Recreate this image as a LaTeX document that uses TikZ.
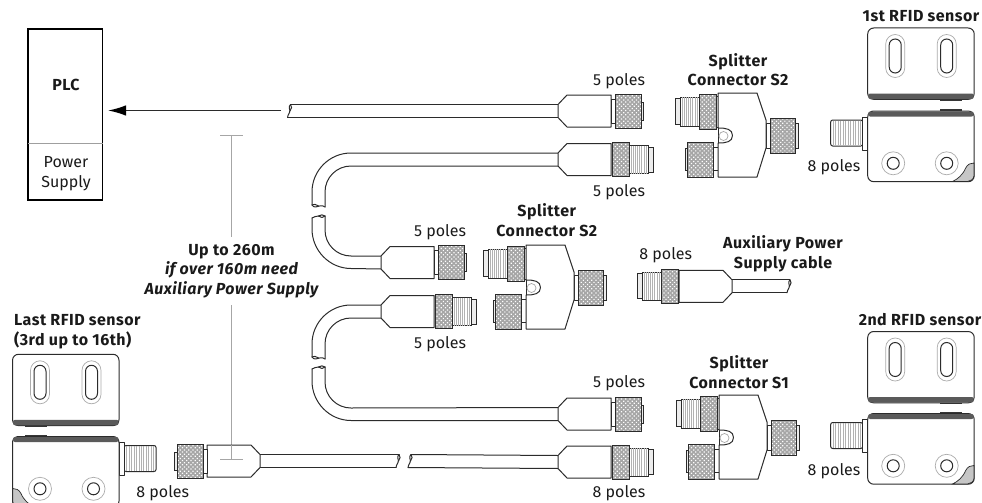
\documentclass[tikz,border=0pt]{standalone}
\usepackage{fontspec}
\setmainfont[BoldFeatures={LetterSpace=3},BoldItalicFeatures={LetterSpace=3}]{Fira Sans}
\usetikzlibrary{patterns.meta,arrows.meta,calc}
\definecolor{ln}{HTML}{2b2b2b}
\definecolor{tx}{HTML}{1a1a1a}
\definecolor{band}{HTML}{5a5a5a}
\newcommand{\threadbox}[4]{%
  \path[draw=ln,line width=1pt,fill=white] (#1,#3) rectangle (#2,#4);
  \foreach \tt in {1,...,8}{
    \draw[draw=gray!60,line width=.45pt] ({#1+(#2-#1)*\tt/9},#3) -- ({#1+(#2-#1)*\tt/9},#4);
  }
}
\tikzset{
 part/.style={draw=ln,line width=1pt,fill=white,line join=round},
 knurl/.style={draw=ln,line width=1pt,preaction={fill=gray!70},pattern={Dots[distance=3pt,radius=.85pt,angle=45]},pattern color=white},
 tip/.style={draw=ln,line width=1pt,fill=gray!15},
 wire/.style={draw=ln,line width=1pt,line cap=round,line join=round},
 dim/.style={draw=gray!70,line width=.9pt},
 lab/.style={font=\fontsize{16}{19.5}\selectfont,text=tx,inner sep=0pt},
 blab/.style={lab,font=\fontsize{16}{19.5}\selectfont\bfseries},
 ilab/.style={lab,font=\fontsize{16}{19.5}\selectfont\bfseries\itshape},
 femalecon/.pic={
  \path[part] (0,-6.5)--(9,-16)--(53,-16)--(53,16)--(9,16)--(0,6.5)--cycle;
  \path[part] (53,-12) rectangle (57,12);
  \path[tip] (83,-9) rectangle (85.5,9);
  \path[knurl] (57,-17) rectangle (83,17);
 },
 malecon/.pic={
  \path[part] (0,-6.5)--(9,-16)--(53,-16)--(53,16)--(9,16)--(0,6.5)--cycle;
  \path[tip] (90,-12.5) rectangle (95,12.5);
  \threadbox{71}{90}{-14}{14}
  \path[knurl] (54,-17) rectangle (71,17);
 },
 splitter/.pic={
  \path[tip] (-43,5) rectangle (-38,31);
  \threadbox{-38}{-19}{4}{33}
  \path[part] (-2,3) rectangle (0,34);
  \path[knurl] (-19,1) rectangle (-2,36);
  \path[tip] (-33,55) rectangle (-31,77);
  \path[part] (-5,54) rectangle (0,77);
  \path[knurl] (-31,49) rectangle (-5,84);
  \path[part] (48,30) rectangle (52,55);
  \path[tip] (77,30) rectangle (80,55);
  \path[knurl] (52,25) rectangle (77,60);
  \path[part] (0,0)--(39,0)--(48,27)--(48,55)--(39,84)--(0,84)--(0,50)
     .. controls (8,50) and (14.5,49) .. (14.5,42.5) .. controls (14.5,36) and (8,35) .. (0,35)--cycle;
  \path[wire] (0,35) -- (0,50);
  \draw[draw=gray!70,line width=.7pt] (5.5,43) circle (4.5);
 },
 sensortop/.pic={
  \fill[band!60!black] (72,70) rectangle (94,72.8);
  \path[part,rounded corners=6pt] (0,0) rectangle (106.5,71.3);
  \fill[band,rounded corners=2pt] (.5,65.5) -- (106,65.5) -- (106,71) -- (.5,71) -- cycle;
  \foreach \xx in {27.5,79}{
   \draw[draw=gray!65,line width=.7pt,rounded corners=9.5pt] (\xx-9.5,6.5) rectangle (\xx+9.5,49.5);
   \draw[draw=ln,line width=1pt,rounded corners=6pt] (\xx-6,11) rectangle (\xx+6,45);
  }
 },
 sensorbottom/.pic={
  \fill[band!60!black] (72,-2) rectangle (94,1);
  \path[draw=ln,line width=1pt,fill=white,rounded corners=2pt] (-37,9) rectangle (-5,35);
  \foreach \tt in {1,...,12}{
    \draw[draw=gray!60,line width=.45pt] ({-37+32*\tt/13},9.5) -- ({-37+32*\tt/13},34.5);
  }
  \path[part] (-5,6) rectangle (0,39);
  \path[part,rounded corners=6pt] (0,0) rectangle (106.5,70.7);
  \fill[band,rounded corners=2pt] (.5,0.5) -- (106,0.5) -- (106,5.5) -- (.5,5.5) -- cycle;
  \foreach \xx in {25.5,79}{
   \draw[draw=gray!65,line width=.7pt] (\xx,52.3) circle (11.5);
   \draw[draw=ln,line width=1pt] (\xx,52.3) circle (6);
  }
  \path[draw=ln,line width=.7pt,fill=gray!45] (85,70.4) .. controls (90,68) and (95,64) .. (98,57) .. controls (100,53) and (103,52) .. (106.2,52) -- (106.2,65) .. controls (106,68) and (103,70.4) .. (100,70.4) -- cycle;
 },
 breakh/.pic={
  \path[wire] (3,-6.5) .. controls (0,-4) and (3.5,-1) .. (2,1.5) .. controls (1,3.5) and (0,5) .. (0,6.5);
  \path[wire] (3,-6.5) .. controls (4.5,-5) and (4.5,-2) .. (2.5,0);
 },
 breakv/.pic={
  \path[wire] (-6.5,0) .. controls (-5,3) and (-1,2) .. (1,1) .. controls (3,0) and (5,1) .. (6.5,2);
  \path[wire] (-6.5,0) .. controls (-5,-1) and (-2,-1) .. (0,1);
 },
 breakw/.pic={
  \path[wire] (-6.5,2) .. controls (-5,0) and (-2,1) .. (0,0) .. controls (2,-1) and (5,-2) .. (6.5,0);
  \path[wire] (6.5,0) .. controls (5,2) and (2,2) .. (0,0);
 },
}
\begin{document}
\begin{tikzpicture}[x=1pt,y=-1pt]
\useasboundingbox (0,0) rectangle (982,503);
\clip (0,0) rectangle (982,503);
% PLC
\node[draw=black,line width=1.4pt,minimum width=74.7pt,minimum height=171pt,inner sep=0pt] (plc) at (65.3,114.5) {};
\coordinate (plcL) at (28,143.3);
\coordinate (plcR) at (102.7,143.3);
\draw[draw=gray!75,line width=.9pt] (plcL) -- (plcR);
\node[blab] (plctxt) at (66,85) {PLC};
\node[lab,align=center] (ps) at (66,173.8) {Power\\Supply};
% anchor coordinates
\coordinate (c1f) at (558,111);
\coordinate (c1m) at (558,159.5);
\coordinate (c2f) at (381,262.5);
\coordinate (c2m) at (381,311.5);
\coordinate (c3f) at (558,414);
\coordinate (c3m) at (558,462);
\coordinate (c4) at (260,461);
\coordinate (aux) at (732,286.3);
\coordinate (b1) at (287.5,111);
\coordinate (arrs) at (281,110.5);
\coordinate (arre) at (108,110.5);
\coordinate (b2a) at (318.5,205);
\coordinate (b2b) at (318.5,216);
\coordinate (b3a) at (318.5,357);
\coordinate (b3b) at (318.5,367);
\coordinate (b4a) at (396,461);
\coordinate (b4b) at (408,461);
\coordinate (b5) at (787,286.3);
\coordinate (dt) at (231.5,135);
\coordinate (dm1) at (231.5,237);
\coordinate (dm2) at (231.5,305);
\coordinate (db) at (231.5,459.3);
% arrow
\draw[draw=ln,line width=1.6pt,-{Latex[length=18pt,width=10.5pt,black]}] (arrs) -- (arre);
% dim
\draw[dim] (dt) -- (dm1);
\draw[dim] (dm2) -- (db);
\draw[dim] (220,135) -- (243,135);
% cables
\draw[wire] (b1)++(3,-6.5) -- ($(c1f)+(0,-6.5)$);
\draw[wire] (b1)++(0,6.5) -- ($(c1f)+(0,6.5)$);
\pic at (b1) {breakh};
\draw[wire] (c1m)++(0,-6.5) -- (351,153) .. controls (329.5,153) and (312,170.5) .. (312,192) -- ($(b2a)+(-6.5,0)$);
\draw[wire] (c1m)++(0,6.5) -- (351,166) .. controls (336.6,166) and (325,177.6) .. (325,192) -- ($(b2a)+(6.5,2)$);
\pic at (b2a) {breakv};
\draw[wire] (b2b)++(-6.5,2) -- (312,229) .. controls (312,250.5) and (329.5,268.5) .. (351,268.5) -- ($(c2f)+(0,6.5)$);
\draw[wire] (b2b)++(6.5,0) -- (325,230) .. controls (325,244.4) and (336.6,256) .. (351,256) -- ($(c2f)+(0,-6.5)$);
\pic at (b2b) {breakw};
\draw[wire] (c2m)++(0,-6.5) -- (351,305) .. controls (329.5,305) and (312,322.5) .. (312,344) -- ($(b3a)+(-6.5,0)$);
\draw[wire] (c2m)++(0,6.5) -- (351,318) .. controls (336.6,318) and (325,329.6) .. (325,344) -- ($(b3a)+(6.5,2)$);
\pic at (b3a) {breakv};
\draw[wire] (b3b)++(-6.5,2) -- (312,381) .. controls (312,402.5) and (329.5,420.5) .. (351,420.5) -- ($(c3f)+(0,6.5)$);
\draw[wire] (b3b)++(6.5,0) -- (325,382) .. controls (325,396.4) and (336.6,408) .. (351,408) -- ($(c3f)+(0,-6.5)$);
\pic at (b3b) {breakw};
\draw[wire] (c4)++(0,-6.5) -- ($(b4a)+(3,-6.5)$);
\draw[wire] (c4)++(0,6.5) -- ($(b4a)+(0,6.5)$);
\pic at (b4a) {breakh};
\draw[wire] (b4b)++(3,-6.5) -- ($(c3m)+(0,-6.5)$);
\draw[wire] (b4b)++(0,6.5) -- ($(c3m)+(0,6.5)$);
\pic at (b4b) {breakh};
\draw[wire] (aux)++(0,-6.5) -- ($(b5)+(2.5,-6.5)$);
\draw[wire] (aux)++(0,6.5) -- ($(b5)+(-.5,6.5)$);
\pic at (b5) {breakh};
% connectors
\pic (con1f) at (c1f) {femalecon};
\pic (con1m) at (c1m) {malecon};
\pic (con2f) at (c2f) {femalecon};
\pic (con2m) at (c2m) {malecon};
\pic (con3f) at (c3f) {femalecon};
\pic (con3m) at (c3m) {malecon};
\pic[xscale=-1] (con4) at (c4) {femalecon};
\pic[xscale=-1] (conaux) at (aux) {malecon};
\draw[dim] (220,459.3) -- (243,459.3);
\draw[dim] (231.5,445) -- (db);
% splitters
\pic (sp1) at (718,93) {splitter};
\pic (sp2) at (526,245) {splitter};
\pic (sp3) at (719,395) {splitter};
% sensors
\pic (s1t) at (867.7,28) {sensortop};
\pic (s1b) at (867.7,111) {sensorbottom};
\pic (s2t) at (867.7,331.5) {sensortop};
\pic (s2b) at (867.7,413.5) {sensorbottom};
\pic[xscale=-1] (s3t) at (119,354.3) {sensortop};
\pic[xscale=-1] (s3b) at (119,436.5) {sensorbottom};
% labels
\node[lab] (l1) at (619,81.5) {5 poles};
\node[lab] (l2) at (619,192.5) {5 poles};
\node[blab,align=center] (l3) at (738,69.5) {Splitter\\Connector S2};
\node[blab] (l4) at (921,16.5) {1st RFID sensor};
\node[lab] (l5) at (834,167.5) {8 poles};
\node[lab] (l6) at (440,232) {5 poles};
\node[lab] (l7) at (440,344) {5 poles};
\node[blab,align=center] (l8) at (546.7,220.3) {Splitter\\Connector S2};
\node[lab] (l9) at (665.7,255.5) {8 poles};
\node[blab,align=center] (l10) at (783,253.7) {Auxiliary Power\\Supply cable};
\node[blab] (l11) at (920,319.8) {2nd RFID sensor};
\node[blab,align=center] (l12) at (739,372.2) {Splitter\\Connector S1};
\node[lab] (l13) at (619,383) {5 poles};
\node[lab] (l14) at (619,493.5) {8 poles};
\node[lab] (l15) at (834,471.5) {8 poles};
\node[blab,align=left,anchor=west] (l16) at (14,331.5) {Last RFID sensor\\(3rd up to 16th)};
\node[lab] (l17) at (162.7,493.5) {8 poles};
\node[blab] (l18) at (231.5,251.7) {Up to 260m};
\node[ilab,align=center] (l19) at (231.5,280) {if over 160m need\\Auxiliary Power Supply};
\end{tikzpicture}
\end{document}
